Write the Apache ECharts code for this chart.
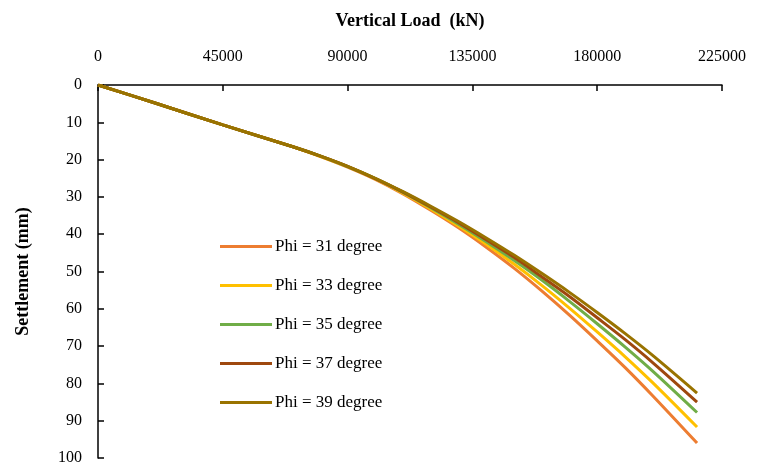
<!DOCTYPE html>
<html>
<head>
<meta charset="utf-8">
<script src="https://cdn.jsdelivr.net/npm/echarts@6/dist/echarts.min.js"></script>
<style>
  html, body { margin: 0; padding: 0; background: #fff; }
  #chart { width: 758px; height: 469px; }
</style>
</head>
<body>
<div id="chart"></div>
<script>
// vertical load (kN)
var loads = [0, 20000, 45000, 70000, 80000, 90000, 100000, 110000, 120000, 130000, 140000, 150000, 160000, 170000, 180000, 190000, 200000, 216000];

// settlement (mm) for each friction angle
var phi31 = [0, 4.7, 10.7, 16.5, 19.1, 22.0, 25.3, 29.2, 33.6, 38.3, 43.5, 49.1, 55.2, 61.7, 68.6, 75.7, 83.3, 96.0];
var phi33 = [0, 4.7, 10.7, 16.5, 19.1, 21.9, 25.2, 29.0, 33.2, 37.8, 42.7, 48.0, 53.7, 59.8, 66.2, 72.8, 79.8, 91.7];
var phi35 = [0, 4.7, 10.7, 16.5, 19.0, 21.9, 25.1, 28.8, 32.9, 37.3, 42.0, 47.0, 52.3, 58.0, 64.0, 70.2, 76.7, 87.8];
var phi37 = [0, 4.7, 10.7, 16.5, 19.0, 21.8, 25.1, 28.7, 32.7, 36.9, 41.5, 46.2, 51.4, 56.7, 62.4, 68.2, 74.4, 85.0];
var phi39 = [0, 4.7, 10.7, 16.5, 19.0, 21.8, 25.0, 28.6, 32.5, 36.6, 41.0, 45.6, 50.5, 55.6, 61.0, 66.6, 72.5, 82.6];

var names = ['Phi = 31 degree', 'Phi = 33 degree', 'Phi = 35 degree', 'Phi = 37 degree', 'Phi = 39 degree'];
var colors = ['#ED7D31', '#FFC000', '#70AD47', '#9E480E', '#997300'];
var values = [phi31, phi33, phi35, phi37, phi39];

var font = '"Liberation Serif", "Times New Roman", serif';

function pairs(ys) {
    var out = [];
    for (var i = 0; i < loads.length; i++) {
        out.push([loads[i], ys[i]]);
    }
    return out;
}

var series = [];
for (var i = 0; i < names.length; i++) {
    series.push({
        name: names[i],
        type: 'line',
        data: pairs(values[i]),
        smooth: 0.3,
        showSymbol: false,
        lineStyle: { color: colors[i], width: 3 },
        itemStyle: { color: colors[i] },
        z: 2 + i
    });
}

var myChart = echarts.init(document.getElementById('chart'));
var option = {
    animation: false,
    backgroundColor: '#fff',
    grid: { left: 98, right: 36, top: 85, bottom: 11 },
    legend: {
        orient: 'vertical',
        left: 215,
        top: 233,
        icon: 'rect',
        itemWidth: 52,
        itemHeight: 3,
        itemGap: 22,
        textStyle: { fontFamily: font, fontSize: 17, color: '#000', lineHeight: 16, padding: [0, 0, 0, -2] },
        data: names
    },
    xAxis: {
        type: 'value',
        position: 'top',
        min: 0,
        max: 225000,
        interval: 45000,
        name: 'Vertical Load  (kN)',
        nameLocation: 'middle',
        nameGap: 55,
        nameTextStyle: { fontFamily: font, fontSize: 18, fontWeight: 'bold', color: '#000' },
        axisLine: { lineStyle: { color: '#000', width: 1.5 } },
        axisTick: { inside: true, length: 6, lineStyle: { color: '#000', width: 1.5 } },
        axisLabel: { fontFamily: font, fontSize: 16, color: '#000', margin: 20,
            formatter: function (v) { return String(v); } },
        splitLine: { show: false }
    },
    yAxis: {
        type: 'value',
        inverse: true,
        min: 0,
        max: 100,
        interval: 10,
        name: 'Settlement (mm)',
        nameLocation: 'middle',
        nameGap: 66,
        nameRotate: 90,
        nameTextStyle: { fontFamily: font, fontSize: 18, fontWeight: 'bold', color: '#000' },
        axisLine: { lineStyle: { color: '#000', width: 1.5 } },
        axisTick: { inside: true, length: 6, lineStyle: { color: '#000', width: 1.5 } },
        axisLabel: { fontFamily: font, fontSize: 16, color: '#000', margin: 16 },
        splitLine: { show: false }
    },
    series: series
};
myChart.setOption(option);
</script>
</body>
</html>
